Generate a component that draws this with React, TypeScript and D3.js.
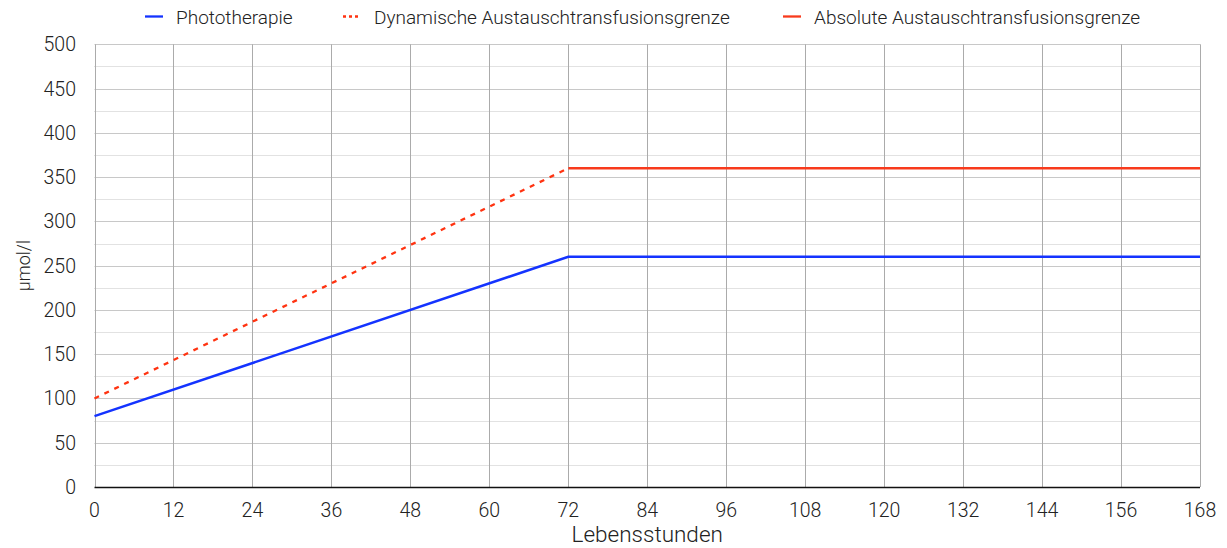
import { useEffect, useRef } from 'react'
import * as d3 from 'd3'

// hours of life, µmol/l
const hoursTicks = [0, 12, 24, 36, 48, 60, 72, 84, 96, 108, 120, 132, 144, 156, 168]
const valueTicks = [0, 50, 100, 150, 200, 250, 300, 350, 400, 450, 500]
const minorTicks = [25, 75, 125, 175, 225, 275, 325, 375, 425, 475]

const photoHours = [0, 72, 168]
const photoValues = [80, 260, 260]
const dynHours = [0, 72]
const dynValues = [100, 360]
const absHours = [72, 168]
const absValues = [360, 360]

const legendItems = [
  { label: 'Phototherapie', color: '#1433ff', dash: null, x: 145 },
  { label: 'Dynamische Austauschtransfusionsgrenze', color: '#ff3311', dash: '3,3', x: 343 },
  { label: 'Absolute Austauschtransfusionsgrenze', color: '#f83a1c', dash: null, x: 783 },
]

const W = 1227
const H = 548
const FONT = 'Roboto, "Helvetica Neue", Arial, sans-serif'

export default function App() {
  const svgRef = useRef<SVGSVGElement>(null)

  useEffect(() => {
    if (!svgRef.current) return
    const svg = d3.select(svgRef.current)
    svg.selectAll('*').remove()

    const margin = { left: 94.5, right: 27, top: 44.3, bottom: 61 }
    const x = d3.scaleLinear().domain([0, 168]).range([margin.left, W - margin.right])
    const y = d3.scaleLinear().domain([0, 500]).range([H - margin.bottom, margin.top])

    // minor dotted grid
    svg.append('g').selectAll('line').data(minorTicks).enter().append('line')
      .attr('x1', x(0)).attr('x2', x(168))
      .attr('y1', d => Math.round(y(d)) + 0.5).attr('y2', d => Math.round(y(d)) + 0.5)
      .attr('stroke', '#c4c4c4').attr('stroke-width', 1).attr('stroke-dasharray', '1,1')

    // major horizontal grid
    svg.append('g').selectAll('line').data(valueTicks.filter(d => d > 0)).enter().append('line')
      .attr('x1', x(0)).attr('x2', x(168))
      .attr('y1', d => Math.round(y(d)) + 0.5).attr('y2', d => Math.round(y(d)) + 0.5)
      .attr('stroke', '#c8c8c8').attr('stroke-width', 1)

    // vertical grid
    svg.append('g').selectAll('line').data(hoursTicks).enter().append('line')
      .attr('x1', d => Math.round(x(d)) + 0.5).attr('x2', d => Math.round(x(d)) + 0.5)
      .attr('y1', y(500)).attr('y2', y(0))
      .attr('stroke', '#ababab').attr('stroke-width', 1)

    // baseline
    svg.append('line')
      .attr('x1', x(0)).attr('x2', x(168))
      .attr('y1', Math.round(y(0)) + 0.5).attr('y2', Math.round(y(0)) + 0.5)
      .attr('stroke', '#111').attr('stroke-width', 1.3)

    // tick labels
    svg.append('g').selectAll('text').data(valueTicks).enter().append('text')
      .attr('x', 76).attr('y', d => y(d)).attr('dy', '0.36em')
      .attr('text-anchor', 'end').attr('font-family', FONT).attr('font-weight', 300)
      .attr('font-size', 19.5).attr('fill', '#222').text(d => d)

    svg.append('g').selectAll('text').data(hoursTicks).enter().append('text')
      .attr('x', d => x(d)).attr('y', 517)
      .attr('text-anchor', 'middle').attr('font-family', FONT).attr('font-weight', 300)
      .attr('font-size', 19.5).attr('fill', '#222').text(d => d)

    // axis titles
    svg.append('text')
      .attr('x', (x(0) + x(168)) / 2).attr('y', 542)
      .attr('text-anchor', 'middle').attr('font-family', FONT).attr('font-weight', 300)
      .attr('font-size', 22.5).attr('fill', '#222').text('Lebensstunden')

    svg.append('text')
      .attr('transform', `translate(29.5,${(y(0) + y(500)) / 2}) rotate(-90)`)
      .attr('text-anchor', 'middle').attr('font-family', FONT).attr('font-weight', 300)
      .attr('font-size', 18).attr('fill', '#222').text('µmol/l')

    const line = d3.line<[number, number]>().x(d => x(d[0])).y(d => y(d[1]))

    svg.append('path')
      .datum(dynHours.map((h, i) => [h, dynValues[i]] as [number, number]))
      .attr('d', line).attr('fill', 'none')
      .attr('stroke', '#ff3311').attr('stroke-width', 2.3).attr('stroke-dasharray', '5,6')

    svg.append('path')
      .datum(absHours.map((h, i) => [h, absValues[i]] as [number, number]))
      .attr('d', line).attr('fill', 'none')
      .attr('stroke', '#f83a1c').attr('stroke-width', 2.5)

    svg.append('path')
      .datum(photoHours.map((h, i) => [h, photoValues[i]] as [number, number]))
      .attr('d', line).attr('fill', 'none')
      .attr('stroke', '#1433ff').attr('stroke-width', 2.5)

    // legend
    const lg = svg.append('g')
    legendItems.forEach(item => {
      lg.append('line')
        .attr('x1', item.x).attr('x2', item.x + 18).attr('y1', 16.5).attr('y2', 16.5)
        .attr('stroke', item.color).attr('stroke-width', 2.3)
        .attr('stroke-dasharray', item.dash)
      lg.append('text')
        .attr('x', item.x + 31).attr('y', 17).attr('dy', '0.35em')
        .attr('font-family', FONT).attr('font-weight', 300)
        .attr('font-size', 19).attr('fill', '#222').text(item.label)
    })
  }, [])

  return (
    <svg
      ref={svgRef}
      width={W}
      height={H}
      style={{ position: 'absolute', left: 0, top: 0, background: '#fff' }}
    />
  )
}
